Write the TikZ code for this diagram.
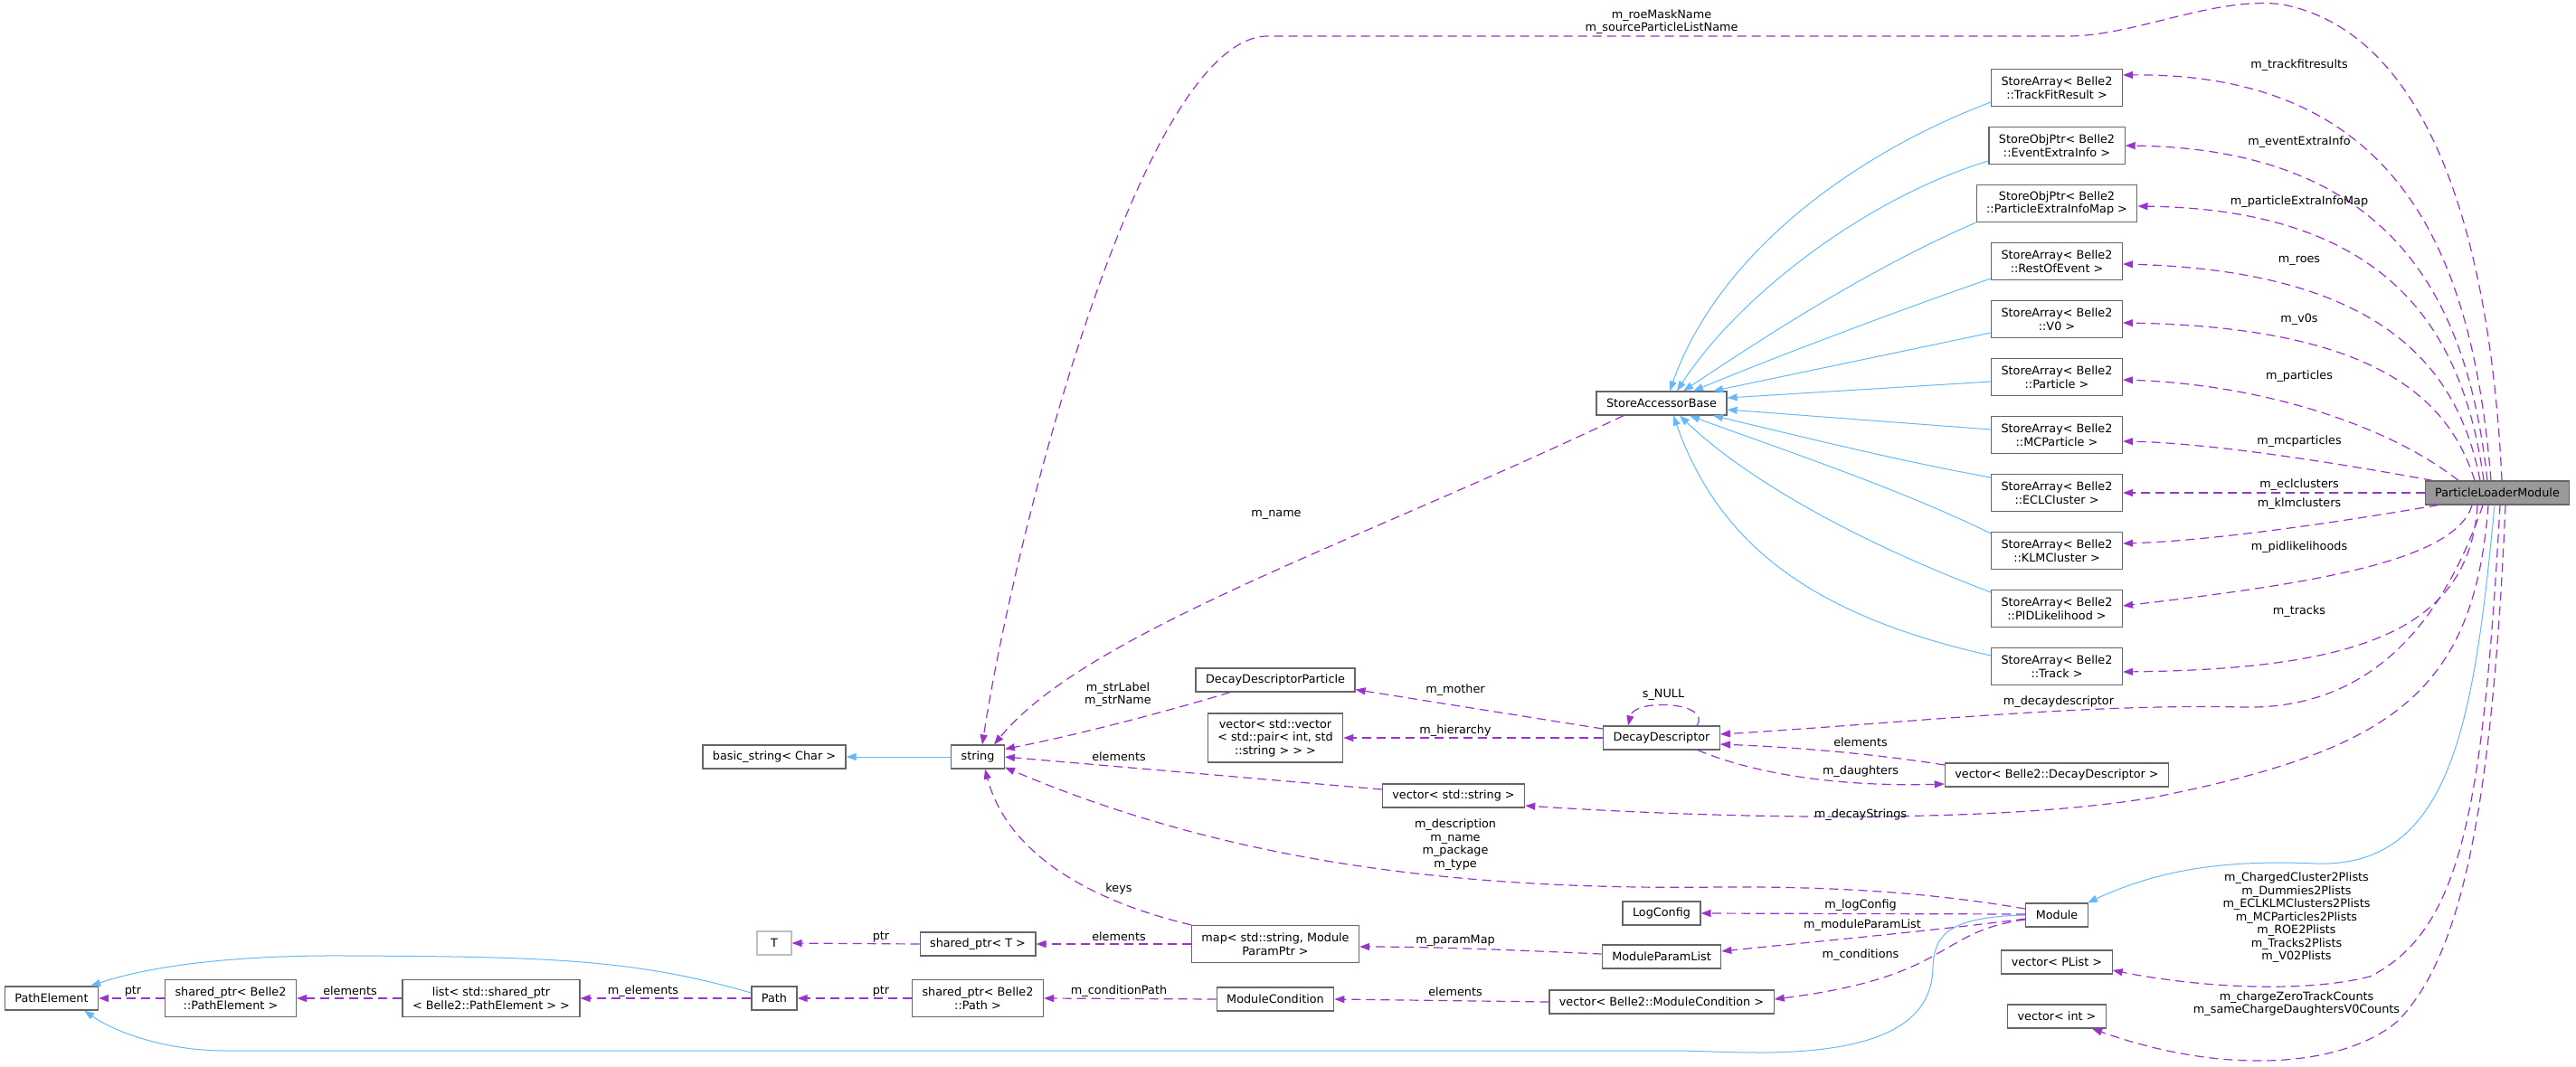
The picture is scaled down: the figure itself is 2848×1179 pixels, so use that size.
\documentclass[tikz,border=0pt]{standalone}
\usepackage{fontspec}
\setmainfont{DejaVu Sans}
\usetikzlibrary{arrows.meta}
\definecolor{usecol}{HTML}{9A32CD}
\definecolor{inhcol}{HTML}{63B8FF}
\definecolor{boxcol}{HTML}{666666}
\definecolor{maincol}{HTML}{999999}
\definecolor{undoccol}{HTML}{BFBFBF}
\newcommand{\dotfont}{\fontsize{12.8}{14.5}\selectfont}

\begin{document}
\begin{tikzpicture}[x=1pt,y=-1pt,every node/.style={font=\dotfont},
  cls/.style={draw=boxcol,fill=white,line width=1.2pt,inner xsep=11pt,inner ysep=2pt,minimum height=26pt,align=center},
  cls2/.style={cls,minimum height=41pt},
  cls3/.style={cls,minimum height=54pt},
  usage/.style={draw=usecol,line width=1.2pt,dash pattern=on 10pt off 6pt,-{Triangle[length=11pt,width=8pt]}},
  inherit/.style={draw=inhcol,line width=1pt,-{Triangle[length=11pt,width=8pt]}},
  lbl/.style={inner sep=0pt,align=center}]
  \useasboundingbox (0,0) rectangle (2848,1179);
  % classes
  \node[cls] (pe) at (57,1104) {PathElement};
  \node[cls2] (spe) at (255,1104) {shared\_ptr< Belle2\\::PathElement >};
  \node[cls2] (lst) at (543,1104) {list< std::shared\_ptr\\< Belle2::PathElement > >};
  \node[cls] (path) at (856,1104) {Path};
  \node[cls,draw=undoccol,minimum width=38pt] (tcls) at (856,1043) {T};
  \node[cls] (bstr) at (856,837) {basic\_string< Char >};
  \node[cls] (strg) at (1081,837) {string};
  \node[cls] (sptrt) at (1081,1044) {shared\_ptr< T >};
  \node[cls2] (spp) at (1081,1104) {shared\_ptr< Belle2\\::Path >};
  \node[cls] (ddp) at (1410,752) {DecayDescriptorParticle};
  \node[cls3] (vvp) at (1410,816) {vector< std::vector\\< std::pair< int, std\\::string > > >};
  \node[cls2] (mpp) at (1410,1044) {map< std::string, Module\\ParamPtr >};
  \node[cls] (mc) at (1410,1105) {ModuleCondition};
  \node[cls] (vstr) at (1607,880) {vector< std::string >};
  \node[cls] (sab) at (1837,446) {StoreAccessorBase};
  \node[cls] (dd) at (1837,816) {DecayDescriptor};
  \node[cls] (logc) at (1837,1010) {LogConfig};
  \node[cls] (mpl) at (1837,1058) {ModuleParamList};
  \node[cls] (vmc) at (1837,1108) {vector< Belle2::ModuleCondition >};
  \node[cls2] (tfr) at (2274,97) {StoreArray< Belle2\\::TrackFitResult >};
  \node[cls2] (eei) at (2274,161) {StoreObjPtr< Belle2\\::EventExtraInfo >};
  \node[cls2] (pei) at (2274,225) {StoreObjPtr< Belle2\\::ParticleExtraInfoMap >};
  \node[cls2] (roe) at (2274,289) {StoreArray< Belle2\\::RestOfEvent >};
  \node[cls2] (vz) at (2274,353) {StoreArray< Belle2\\::V0 >};
  \node[cls2] (part) at (2274,417) {StoreArray< Belle2\\::Particle >};
  \node[cls2] (mcp) at (2274,481) {StoreArray< Belle2\\::MCParticle >};
  \node[cls2] (ecl) at (2274,545) {StoreArray< Belle2\\::ECLCluster >};
  \node[cls2] (klm) at (2274,609) {StoreArray< Belle2\\::KLMCluster >};
  \node[cls2] (pid) at (2274,673) {StoreArray< Belle2\\::PIDLikelihood >};
  \node[cls2] (trk) at (2274,737) {StoreArray< Belle2\\::Track >};
  \node[cls] (vdd) at (2274,857) {vector< Belle2::DecayDescriptor >};
  \node[cls] (mod) at (2274,1012) {Module};
  \node[cls] (vpl) at (2274,1064) {vector< PList >};
  \node[cls] (vint) at (2274,1124) {vector< int >};
  \node[cls,fill=maincol] (plm) at (2761,545) {ParticleLoaderModule};

  % inheritance
  \draw[inherit] (strg.west) -- (bstr.east);
  \draw[inherit] ([yshift=-16pt]tfr.west) .. controls (2050,170) and (1900,280) .. ([xshift=9pt]sab.north);
  \draw[inherit] ([yshift=-17pt]eei.west) .. controls (2060,220) and (1920,330) .. ([xshift=17pt]sab.north);
  \draw[inherit] (pei.south west) .. controls (2060,300) and (1940,380) .. ([xshift=24pt]sab.north);
  \draw[inherit] ([yshift=-19pt]roe.west) .. controls (2080,350) and (1950,400) .. ([xshift=35pt]sab.north);
  \draw[inherit] ([yshift=-15pt]vz.west) -- ([xshift=57pt]sab.north);
  \draw[inherit] ([yshift=-5pt]part.west) -- ([yshift=6pt]sab.east);
  \draw[inherit] ([yshift=6pt]mcp.west) -- ([yshift=-7pt]sab.east);
  \draw[inherit] ([yshift=17pt]ecl.west) .. controls (2100,510) and (1980,480) .. ([xshift=57pt]sab.south);
  \draw[inherit] ([yshift=19pt]klm.west) .. controls (2100,540) and (1950,490) .. ([xshift=31pt]sab.south);
  \draw[inherit] ([yshift=18pt]pid.west) .. controls (2030,590) and (1920,520) .. ([xshift=20pt]sab.south);
  \draw[inherit] ([yshift=12pt]trk.west) .. controls (2000,680) and (1900,600) .. ([xshift=13pt]sab.south);
  \draw[inherit] ([xshift=-3pt]plm.south) .. controls (2735,800) and (2710,960) .. (2560,955)
    .. controls (2450,950) and (2380,965) .. ([xshift=-1pt]mod.north east);
  \draw[inherit] (mod.west) .. controls (2160,1014) and (2138,1030) .. (2137,1070)
    .. controls (2136,1125) and (2090,1163) .. (1950,1164) .. controls (1900,1164) and (1880,1162) .. (1850,1162)
    -- (250,1162) .. controls (180,1162) and (125,1140) .. ([xshift=-16pt]pe.south east);
  \draw[inherit] ([yshift=6pt]path.west) .. controls (700,1060) and (600,1058) .. (383,1057)
    .. controls (250,1056) and (160,1070) .. ([xshift=-9pt]pe.north east);

  % usage from ParticleLoaderModule
  \draw[usage] ([xshift=5pt]plm.north) .. controls (2755,300) and (2700,40) .. (2524,5)
    .. controls (2450,-5) and (2360,40) .. (2286,40) -- (1400,40)
    .. controls (1260,45) and (1120,600) .. ([xshift=5pt]strg.north);
  \draw[usage] ([xshift=-7pt]plm.north) .. controls (2735,300) and (2665,80) .. ([yshift=14pt]tfr.east);
  \draw[usage] ([xshift=-11pt]plm.north) .. controls (2730,350) and (2660,165) .. (eei.east);
  \draw[usage] ([xshift=-15pt]plm.north) .. controls (2725,380) and (2655,232) .. ([yshift=-3pt]pei.east);
  \draw[usage] ([xshift=-19pt]plm.north) .. controls (2720,420) and (2650,300) .. ([yshift=-3pt]roe.east);
  \draw[usage] ([xshift=-25pt]plm.north) .. controls (2710,450) and (2640,362) .. ([yshift=-4pt]vz.east);
  \draw[usage] ([xshift=-43pt]plm.north) .. controls (2640,470) and (2500,425) .. ([yshift=-3pt]part.east);
  \draw[usage] ([xshift=9pt]plm.north west) .. controls (2600,515) and (2450,490) .. ([yshift=-7pt]mcp.east);
  \draw[usage] (plm.west) -- (ecl.east);
  \draw[usage] ([xshift=15pt]plm.south west) .. controls (2600,575) and (2450,598) .. ([yshift=8pt]klm.east);
  \draw[usage] ([xshift=-28pt]plm.south) .. controls (2715,620) and (2560,645) .. ([yshift=3pt]pid.east);
  \draw[usage] ([xshift=-22pt]plm.south) .. controls (2730,700) and (2600,740) .. ([yshift=-6pt]trk.east);
  \draw[usage] ([xshift=-16pt]plm.south) .. controls (2700,690) and (2620,785) .. (2480,782)
    .. controls (2300,778) and (2100,800) .. ([yshift=4pt]dd.east);
  \draw[usage] ([xshift=-10pt]plm.south) .. controls (2735,770) and (2640,830) .. (2380,882)
    .. controls (2200,912) and (1900,905) .. ([yshift=-11pt]vstr.east);
  \draw[usage] ([xshift=3pt]plm.south) .. controls (2745,900) and (2720,1030) .. (2620,1080)
    .. controls (2540,1100) and (2420,1090) .. ([yshift=-9pt]vpl.east);
  \draw[usage] ([xshift=9pt]plm.south) .. controls (2755,900) and (2720,1060) .. (2650,1130)
    .. controls (2590,1180) and (2460,1190) .. ([xshift=-16pt]vint.south east);

  % usage from Module and the rest
  \draw[usage] ([yshift=7pt]mod.west) .. controls (2150,990) and (2050,980) .. (1900,981)
    .. controls (1600,985) and (1350,950) .. ([yshift=2pt]strg.south east);
  \draw[usage] ([yshift=1pt]mod.west) -- (logc.east);
  \draw[usage] ([yshift=-4pt]mod.west) .. controls (2150,1028) and (2000,1042) .. ([yshift=6pt]mpl.east);
  \draw[usage] ([yshift=-5pt]mod.west) .. controls (2140,1030) and (2160,1080) .. ([yshift=3pt]vmc.east);
  \draw[usage] ([yshift=3pt]mpl.west) .. controls (1700,1052) and (1600,1047) .. ([yshift=-3pt]mpp.east);
  \draw[usage] (mpp.north west) .. controls (1180,990) and (1110,930) .. ([xshift=8pt]strg.south);
  \draw[usage] (mpp.west) -- (sptrt.east);
  \draw[usage] (sptrt.west) -- (tcls.east);
  \draw[usage] (vmc.west) -- (mc.east);
  \draw[usage] (mc.west) -- (spp.east);
  \draw[usage] (spp.west) -- (path.east);
  \draw[usage] (path.west) -- (lst.east);
  \draw[usage] (lst.west) -- (spe.east);
  \draw[usage] (spe.west) -- (pe.east);
  \draw[usage] ([yshift=10pt]dd.west) -- ([yshift=3pt]ddp.south east);
  \draw[usage] (dd.west) -- (vvp.east);
  \draw[usage] ([xshift=39pt]dd.north) .. controls (1893,776) and (1807,772) .. ([xshift=-37pt]dd.north);
  \draw[usage] ([xshift=40pt]dd.south) .. controls (1950,860) and (2050,870) .. ([yshift=-10pt]vdd.west);
  \draw[usage] ([yshift=11pt]vdd.west) .. controls (2050,830) and (1950,825) .. ([yshift=-7pt]dd.east);
  \draw[usage] ([xshift=-50pt]ddp.south) .. controls (1280,790) and (1180,815) .. ([yshift=-5pt]strg.north east);
  \draw[usage] ([yshift=7pt]vstr.west) -- (strg.east);
  \draw[usage] ([xshift=-42pt]sab.south) .. controls (1500,600) and (1200,700) .. ([xshift=18pt]strg.north);

  % edge labels
  \node[lbl] (lroe) at (1837,24) {m\_roeMaskName\\m\_sourceParticleListName};
  \node[lbl] (ltfr) at (2542,72) {m\_trackfitresults};
  \node[lbl] (leei) at (2542,157) {m\_eventExtraInfo};
  \node[lbl] (lpei) at (2542,223) {m\_particleExtraInfoMap};
  \node[lbl] (lroes) at (2542,288) {m\_roes};
  \node[lbl] (lvz) at (2542,353) {m\_v0s};
  \node[lbl] (lpart) at (2542,416) {m\_particles};
  \node[lbl] (lmcp) at (2542,488) {m\_mcparticles};
  \node[lbl] (lecl) at (2542,536) {m\_eclclusters};
  \node[lbl] (lklm) at (2542,557) {m\_klmclusters};
  \node[lbl] (lpid) at (2542,605) {m\_pidlikelihoods};
  \node[lbl] (ltrk) at (2542,676) {m\_tracks};
  \node[lbl] (lname) at (1411,569) {m\_name};
  \node[lbl] (lstr) at (1236,768) {m\_strLabel\\m\_strName};
  \node[lbl] (lmoth) at (1609,763) {m\_mother};
  \node[lbl] (lhier) at (1609,808) {m\_hierarchy};
  \node[lbl] (lnull) at (1839,768) {s\_NULL};
  \node[lbl] (lvstr) at (1237,837) {elements};
  \node[lbl] (lddesc) at (2276,776) {m\_decaydescriptor};
  \node[lbl] (lvdd) at (2057,821) {elements};
  \node[lbl] (ldau) at (2057,853) {m\_daughters};
  \node[lbl] (ldstr) at (2057,901) {m\_decayStrings};
  \node[lbl] (ldesc) at (1609,934) {m\_description\\m\_name\\m\_package\\m\_type};
  \node[lbl] (lkeys) at (1237,983) {keys};
  \node[lbl] (llog) at (2057,1001) {m\_logConfig};
  \node[lbl] (lmpl) at (2059,1023) {m\_moduleParamList};
  \node[lbl] (lcond) at (2057,1056) {m\_conditions};
  \node[lbl] (lpmap) at (1609,1040) {m\_paramMap};
  \node[lbl] (lmpp) at (1237,1036) {elements};
  \node[lbl] (lptrt) at (974,1036) {ptr};
  \node[lbl] (lvmc) at (1609,1097) {elements};
  \node[lbl] (lcpath) at (1237,1096) {m\_conditionPath};
  \node[lbl] (lptrp) at (974,1096) {ptr};
  \node[lbl] (lelem) at (711,1096) {m\_elements};
  \node[lbl] (llst) at (387,1096) {elements};
  \node[lbl] (lptre) at (147,1096) {ptr};
  \node[lbl] (lplist) at (2539,1015) {m\_ChargedCluster2Plists\\m\_Dummies2Plists\\m\_ECLKLMClusters2Plists\\m\_MCParticles2Plists\\m\_ROE2Plists\\m\_Tracks2Plists\\m\_V02Plists};
  \node[lbl] (lint) at (2539,1110) {m\_chargeZeroTrackCounts\\m\_sameChargeDaughtersV0Counts};
\end{tikzpicture}
\end{document}
